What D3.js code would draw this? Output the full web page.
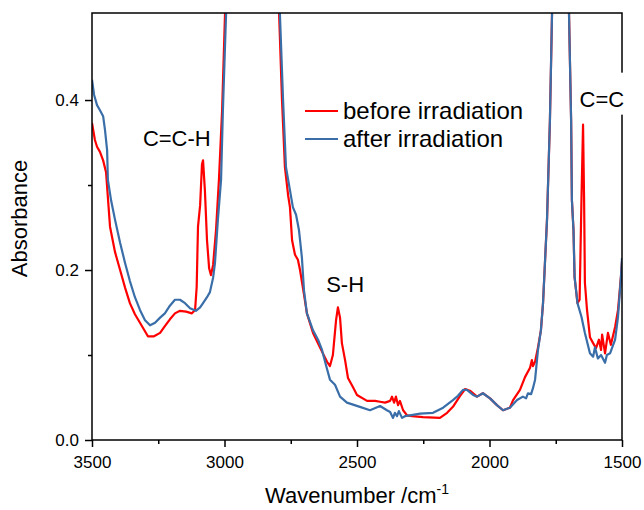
<!DOCTYPE html>
<html>
<head>
<meta charset="utf-8">
<script src="https://cdn.jsdelivr.net/npm/d3@7"></script>
<style>
  body { margin: 0; background: #fff; }
  text { font-family: "Liberation Sans", Arial, sans-serif; }
</style>
</head>
<body>
<div id="chart"></div>
<script>
// wavenumber (cm-1) and absorbance
// values above the top of the frame are clipped (off-scale peaks)
var beforeWn = [3500, 3489, 3481, 3470, 3458, 3447, 3432, 3413, 3394, 3375, 3357, 3338, 3319, 3289, 3266,
  3243, 3225, 3206, 3187, 3168, 3145, 3123, 3111, 3105, 3100, 3092, 3085, 3081, 3074, 3066, 3058, 3051,
  3043, 3032, 3021, 3009, 2998, 2979, 2828, 2794, 2783, 2772, 2760, 2753, 2745, 2734, 2723, 2715, 2700,
  2689, 2666, 2640, 2613, 2602, 2591, 2579, 2572, 2564, 2557, 2545, 2534, 2515, 2500, 2462, 2432, 2413,
  2394, 2375, 2368, 2360, 2353, 2345, 2338, 2326, 2311, 2292, 2251, 2187, 2160, 2138, 2111, 2092, 2074,
  2047, 2025, 1998, 1972, 1949, 1923, 1911, 1885, 1866, 1847, 1840, 1836, 1828, 1817, 1806, 1798, 1783,
  1772, 1764, 1753, 1711, 1700, 1692, 1689, 1683, 1679, 1668, 1660, 1653, 1647, 1643, 1640, 1632, 1621,
  1609, 1598, 1587, 1579, 1575, 1564, 1553, 1542, 1526, 1515, 1504, 1500];
var beforeAbs = [0.373, 0.353, 0.345, 0.339, 0.329, 0.315, 0.251, 0.221, 0.200, 0.179, 0.161, 0.148, 0.138, 0.122, 0.122,
  0.126, 0.134, 0.142, 0.149, 0.152, 0.151, 0.149, 0.153, 0.180, 0.251, 0.276, 0.324, 0.329, 0.294, 0.235, 0.202, 0.194,
  0.206, 0.247, 0.306, 0.388, 0.502, 0.700, 0.700, 0.502, 0.400, 0.321, 0.288, 0.274, 0.235, 0.218, 0.212, 0.200, 0.171,
  0.149, 0.126, 0.109, 0.092, 0.087, 0.100, 0.141, 0.156, 0.144, 0.114, 0.094, 0.073, 0.062, 0.053, 0.046, 0.046, 0.045,
  0.044, 0.046, 0.051, 0.044, 0.051, 0.041, 0.046, 0.035, 0.029, 0.028, 0.027, 0.026, 0.032, 0.039, 0.052, 0.060, 0.058,
  0.051, 0.055, 0.049, 0.041, 0.035, 0.038, 0.047, 0.059, 0.074, 0.085, 0.094, 0.087, 0.092, 0.109, 0.129, 0.161, 0.259,
  0.376, 0.502, 0.800, 0.800, 0.502, 0.376, 0.282, 0.247, 0.192, 0.161, 0.165, 0.282, 0.371, 0.282, 0.185, 0.153, 0.121,
  0.114, 0.108, 0.118, 0.106, 0.124, 0.102, 0.126, 0.112, 0.133, 0.153, 0.192, 0.210];

var afterWn = [3500, 3492, 3481, 3470, 3458, 3451, 3443, 3440, 3428, 3413, 3394, 3375, 3357, 3338, 3319, 3300,
  3281, 3262, 3243, 3225, 3206, 3187, 3168, 3149, 3130, 3108, 3092, 3081, 3066, 3055, 3043, 3036, 3025,
  3013, 3006, 2994, 2979, 2828, 2791, 2779, 2768, 2753, 2742, 2730, 2719, 2708, 2700, 2689, 2666, 2647,
  2632, 2617, 2602, 2583, 2564, 2538, 2489, 2451, 2413, 2387, 2375, 2364, 2357, 2349, 2342, 2330, 2319,
  2300, 2262, 2213, 2175, 2138, 2119, 2100, 2085, 2062, 2047, 2025, 1998, 1972, 1949, 1923, 1896, 1874,
  1862, 1855, 1843, 1836, 1828, 1817, 1806, 1798, 1783, 1772, 1764, 1753, 1711, 1700, 1692, 1689, 1683,
  1679, 1668, 1653, 1640, 1621, 1609, 1602, 1591, 1579, 1564, 1557, 1545, 1526, 1515, 1504, 1500];
var afterAbs = [0.424, 0.406, 0.394, 0.388, 0.381, 0.365, 0.341, 0.306, 0.282, 0.259, 0.232, 0.208, 0.187, 0.168, 0.153, 0.141,
  0.135, 0.138, 0.144, 0.149, 0.158, 0.165, 0.165, 0.161, 0.155, 0.152, 0.156, 0.161, 0.168, 0.174, 0.191, 0.208, 0.259,
  0.306, 0.388, 0.502, 0.700, 0.700, 0.502, 0.400, 0.321, 0.294, 0.274, 0.265, 0.247, 0.215, 0.176, 0.149, 0.129, 0.118,
  0.106, 0.088, 0.071, 0.065, 0.051, 0.044, 0.039, 0.035, 0.040, 0.035, 0.033, 0.026, 0.032, 0.028, 0.034, 0.026, 0.028,
  0.029, 0.031, 0.032, 0.038, 0.047, 0.052, 0.059, 0.059, 0.053, 0.051, 0.055, 0.049, 0.041, 0.035, 0.038, 0.047, 0.051,
  0.049, 0.055, 0.054, 0.061, 0.071, 0.106, 0.129, 0.161, 0.259, 0.376, 0.502, 0.800, 0.800, 0.502, 0.376, 0.282, 0.247,
  0.192, 0.161, 0.145, 0.126, 0.102, 0.098, 0.109, 0.096, 0.100, 0.091, 0.100, 0.102, 0.118, 0.145, 0.192, 0.214];

var xTicks = [3500, 3000, 2500, 2000, 1500];
var xMinor = [3250, 2750, 2250, 1750];
var yTicks = [0.0, 0.2, 0.4];
var yMinor = [0.1, 0.3];
var seriesNames = ["before irradiation", "after irradiation"];
var seriesColors = ["#ff0000", "#3a6ea8"];
var peakLabels = [
  {text: "C=C-H", wn: 3180, abs: 0.346},
  {text: "S-H", wn: 2545, abs: 0.174}
];

var margin = {top: 13, right: 22, bottom: 70, left: 92},
    width = 644 - margin.left - margin.right,
    height = 510 - margin.top - margin.bottom;

var svg = d3.select("#chart")
  .append("svg")
    .attr("width", 644)
    .attr("height", 510)
  .append("g")
    .attr("transform", "translate(" + margin.left + "," + margin.top + ")");

var x = d3.scaleLinear().domain([3500, 1500]).range([0, width]);
var y = d3.scaleLinear().domain([0, 0.5024]).range([height, 0]);

svg.append("clipPath")
    .attr("id", "clip")
  .append("rect")
    .attr("width", width)
    .attr("height", height);

var line = d3.line()
  .x(function(d) { return x(d[0]); })
  .y(function(d) { return y(d[1]); });

var series = [d3.zip(beforeWn, beforeAbs), d3.zip(afterWn, afterAbs)];

series.forEach(function(s, i) {
  svg.append("path")
    .datum(s)
    .attr("clip-path", "url(#clip)")
    .attr("fill", "none")
    .attr("stroke", seriesColors[i])
    .attr("stroke-width", 2.2)
    .attr("stroke-linejoin", "round")
    .attr("d", line);
});

// frame
svg.append("rect")
  .attr("width", width)
  .attr("height", height)
  .attr("fill", "none")
  .attr("stroke", "#000")
  .attr("stroke-width", 1.5);

// X axis
svg.append("g")
  .attr("transform", "translate(0," + height + ")")
  .call(d3.axisBottom(x).tickValues(xTicks).tickSize(7).tickPadding(9).tickFormat(d3.format("d")));
svg.append("g")
  .attr("transform", "translate(0," + height + ")")
  .call(d3.axisBottom(x).tickValues(xMinor).tickSize(4).tickFormat(""));

// Y axis
svg.append("g")
  .call(d3.axisLeft(y).tickValues(yTicks).tickSize(7).tickPadding(6).tickFormat(d3.format(".1f")));
svg.append("g")
  .call(d3.axisLeft(y).tickValues(yMinor).tickSize(4).tickFormat(""));

svg.selectAll(".domain").remove();
svg.selectAll(".tick line").attr("stroke", "#000").attr("stroke-width", 1.5);
svg.selectAll(".tick text")
  .attr("fill", "#000")
  .style("font-size", "17px")
  .style("font-family", "'Liberation Sans', Arial, sans-serif");

// axis titles
svg.append("text")
  .attr("x", width / 2)
  .attr("y", height + 63)
  .attr("text-anchor", "middle")
  .style("font-size", "22px")
  .text("Wavenumber /cm")
  .append("tspan")
    .attr("dy", "-9")
    .style("font-size", "14px")
    .text("-1");

svg.append("text")
  .attr("transform", "rotate(-90)")
  .attr("x", -height / 2 + 8)
  .attr("y", -65)
  .attr("text-anchor", "middle")
  .style("font-size", "22px")
  .text("Absorbance");

// legend
var legend = svg.selectAll(".legend")
  .data(seriesNames)
  .enter()
  .append("g")
    .attr("transform", function(d, i) { return "translate(213," + (98 + i * 28) + ")"; });
legend.append("line")
  .attr("x1", 0).attr("x2", 33)
  .attr("stroke", function(d, i) { return seriesColors[i]; })
  .attr("stroke-width", 2.2);
legend.append("text")
  .attr("x", 38)
  .attr("dy", "0.35em")
  .style("font-size", "24px")
  .text(function(d) { return d; });

// peak labels
svg.selectAll(".peak")
  .data(peakLabels)
  .enter()
  .append("text")
    .attr("x", function(d) { return x(d.wn); })
    .attr("y", function(d) { return y(d.abs); })
    .attr("text-anchor", "middle")
    .style("font-size", "22px")
    .text(function(d) { return d.text; });

// C=C label sits over the right frame with a white box
var cc = svg.append("g")
  .attr("transform", "translate(" + x(1576) + "," + y(0.3922) + ")");
cc.append("rect")
  .attr("x", -25).attr("y", -34)
  .attr("width", 50).attr("height", 42)
  .attr("fill", "#fff");
cc.append("text")
  .attr("text-anchor", "middle")
  .style("font-size", "22px")
  .text("C=C");
</script>
</body>
</html>
